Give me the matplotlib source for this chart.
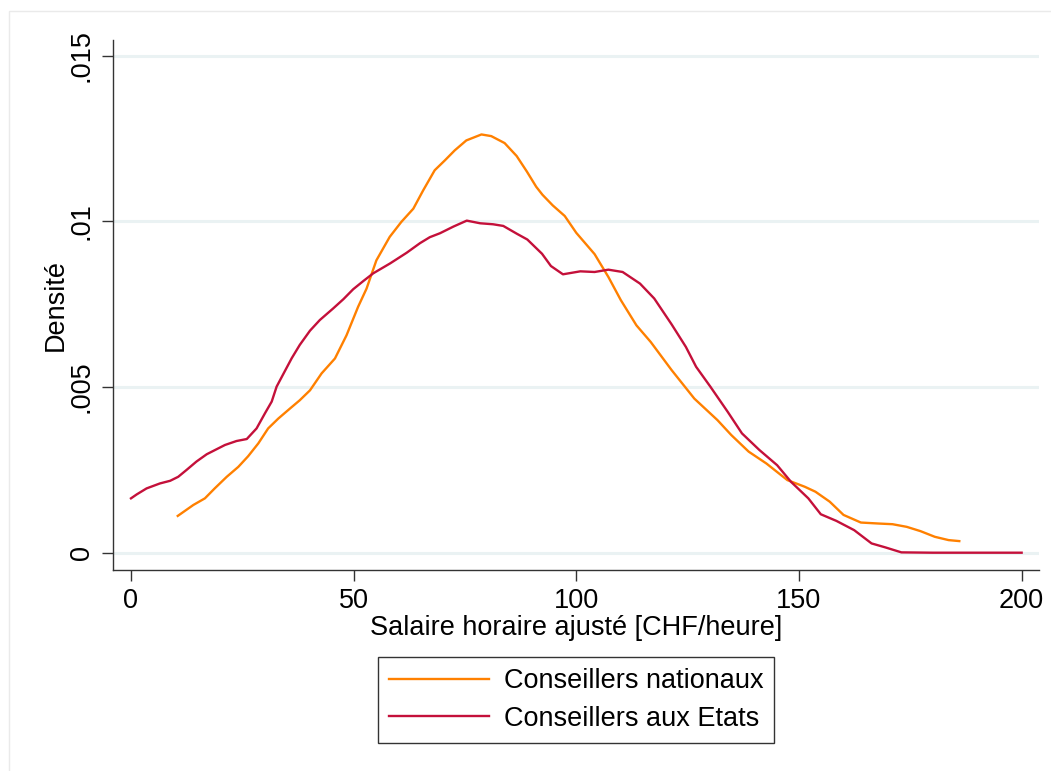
import numpy as np
import matplotlib
matplotlib.use("Agg")
import matplotlib.pyplot as plt
from matplotlib.patches import Rectangle

plt.rcParams['font.family'] = ['Liberation Sans', 'DejaVu Sans']

# Densité - Conseillers nationaux
nat_x = [10.5, 14.0, 16.6, 18.8, 21.5, 24.1, 26.3, 28.6, 30.8, 33.1, 35.7, 37.9,
         40.2, 42.8, 45.8, 48.4, 51.0, 52.9, 55.1, 58.1, 60.7, 63.4, 65.6, 68.2,
         70.5, 72.7, 75.3, 78.7, 80.9, 83.9, 86.6, 88.9, 91.0, 92.4, 94.7, 97.4,
         100.0, 104.1, 107.2, 110.0, 113.5, 116.7, 121.4, 126.5, 131.7, 134.8,
         138.7, 142.7, 147.4, 151.3, 153.7, 156.9, 160.0, 163.9, 167.9, 171.0,
         174.2, 177.3, 180.5, 183.6, 186.0]
nat_y = [0.00111, 0.00144, 0.00164, 0.00194, 0.00229, 0.00259, 0.00291, 0.00330,
         0.00375, 0.00405, 0.00435, 0.00460, 0.00490, 0.00541, 0.00586, 0.00656,
         0.00742, 0.00797, 0.00882, 0.00953, 0.00998, 0.01038, 0.01093, 0.01154,
         0.01184, 0.01214, 0.01244, 0.01262, 0.01257, 0.01236, 0.01197, 0.01150,
         0.01104, 0.01080, 0.01048, 0.01016, 0.00965, 0.00901, 0.00832, 0.00762,
         0.00686, 0.00636, 0.00551, 0.00465, 0.00400, 0.00355, 0.00305, 0.00269,
         0.00219, 0.00199, 0.00184, 0.00154, 0.00114, 0.00091, 0.00088, 0.00086,
         0.00078, 0.00065, 0.00048, 0.00038, 0.00035]

# Densité - Conseillers aux Etats
eta_x = [0.0, 1.3, 3.5, 6.5, 8.8, 10.6, 12.5, 14.7, 17.0, 18.9, 21.1, 23.7, 26.0,
         28.2, 30.1, 31.6, 32.7, 34.2, 36.1, 37.9, 40.2, 42.4, 45.4, 47.7, 49.9,
         52.2, 54.4, 58.2, 61.9, 64.9, 67.1, 69.4, 72.4, 75.4, 78.4, 81.3, 83.6,
         86.7, 89.0, 92.3, 94.3, 97.0, 100.9, 104.1, 107.2, 110.4, 114.3, 117.5,
         121.4, 124.6, 126.9, 130.1, 134.0, 137.2, 141.1, 145.1, 148.2, 152.1,
         154.9, 158.4, 162.4, 166.3, 169.4, 173.0, 180.0, 190.0, 200.0]
eta_y = [0.00164, 0.00176, 0.00194, 0.00209, 0.00217, 0.00229, 0.00250, 0.00275,
         0.00297, 0.00310, 0.00325, 0.00337, 0.00343, 0.00375, 0.00421, 0.00456,
         0.00501, 0.00539, 0.00587, 0.00627, 0.00670, 0.00702, 0.00737, 0.00765,
         0.00795, 0.00820, 0.00843, 0.00873, 0.00905, 0.00934, 0.00952, 0.00964,
         0.00984, 0.01002, 0.00994, 0.00991, 0.00986, 0.00962, 0.00945, 0.00902,
         0.00865, 0.00840, 0.00849, 0.00847, 0.00854, 0.00847, 0.00812, 0.00767,
         0.00689, 0.00621, 0.00561, 0.00501, 0.00425, 0.00360, 0.00310, 0.00264,
         0.00214, 0.00164, 0.00116, 0.00096, 0.00068, 0.00028, 0.00016, 0.00001,
         0.0, 0.0, 0.0]

x_ticks = [0, 50, 100, 150, 200]
y_ticks = [0, 0.005, 0.01, 0.015]
y_ticklabels = ["0", ".005", ".01", ".015"]

W, H = 1051, 771
fs = 19.5
fig = plt.figure(figsize=(W / 100, H / 100), dpi=100)
fig.patch.set_facecolor("white")

# light outer frame (stata graph region)
fig.patches.append(Rectangle((9 / W, -0.1), 1.2, 1 - 11 / H + 0.1, transform=fig.transFigure,
                             fill=False, edgecolor="#eaeaea", linewidth=1.0))

ax = fig.add_axes([113 / W, 1 - 570 / H, (1039 - 113) / W, (570 - 40) / H])
ax.set_xlim(-4.04, 203.9)
ax.set_ylim(-0.000522, 0.01547)

for v in y_ticks:
    ax.axhline(v, color="#eaf2f3", linewidth=2.2, zorder=0)

ax.plot(nat_x, nat_y, color="#ff8000", linewidth=1.7, label="Conseillers nationaux")
ax.plot(eta_x, eta_y, color="#c4103a", linewidth=1.7, label="Conseillers aux Etats")

ax.spines["top"].set_visible(False)
ax.spines["right"].set_visible(False)
for s in ("left", "bottom"):
    ax.spines[s].set_color("#333333")
    ax.spines[s].set_linewidth(1.0)

ax.set_xticks(x_ticks)
ax.set_xticklabels([str(t) for t in x_ticks])
ax.set_yticks(y_ticks)
ax.set_yticklabels(y_ticklabels, rotation=90, va="center")
ax.tick_params(axis="both", direction="out", length=8, width=1.0, color="#333333",
               labelsize=fs, pad=5)

ax.set_xlabel("Salaire horaire ajusté [CHF/heure]", fontsize=fs, labelpad=1)
ax.set_ylabel("Densité", fontsize=fs, labelpad=0)

leg = fig.legend(loc="center", bbox_to_anchor=(576 / W, 1 - 700 / H), fontsize=fs,
                 frameon=True, fancybox=False, edgecolor="black", handlelength=3.7,
                 handletextpad=0.55, borderpad=0.4, labelspacing=0.42, borderaxespad=0)
leg.get_frame().set_linewidth(1.0)

fig.savefig("out.png", dpi=100)
